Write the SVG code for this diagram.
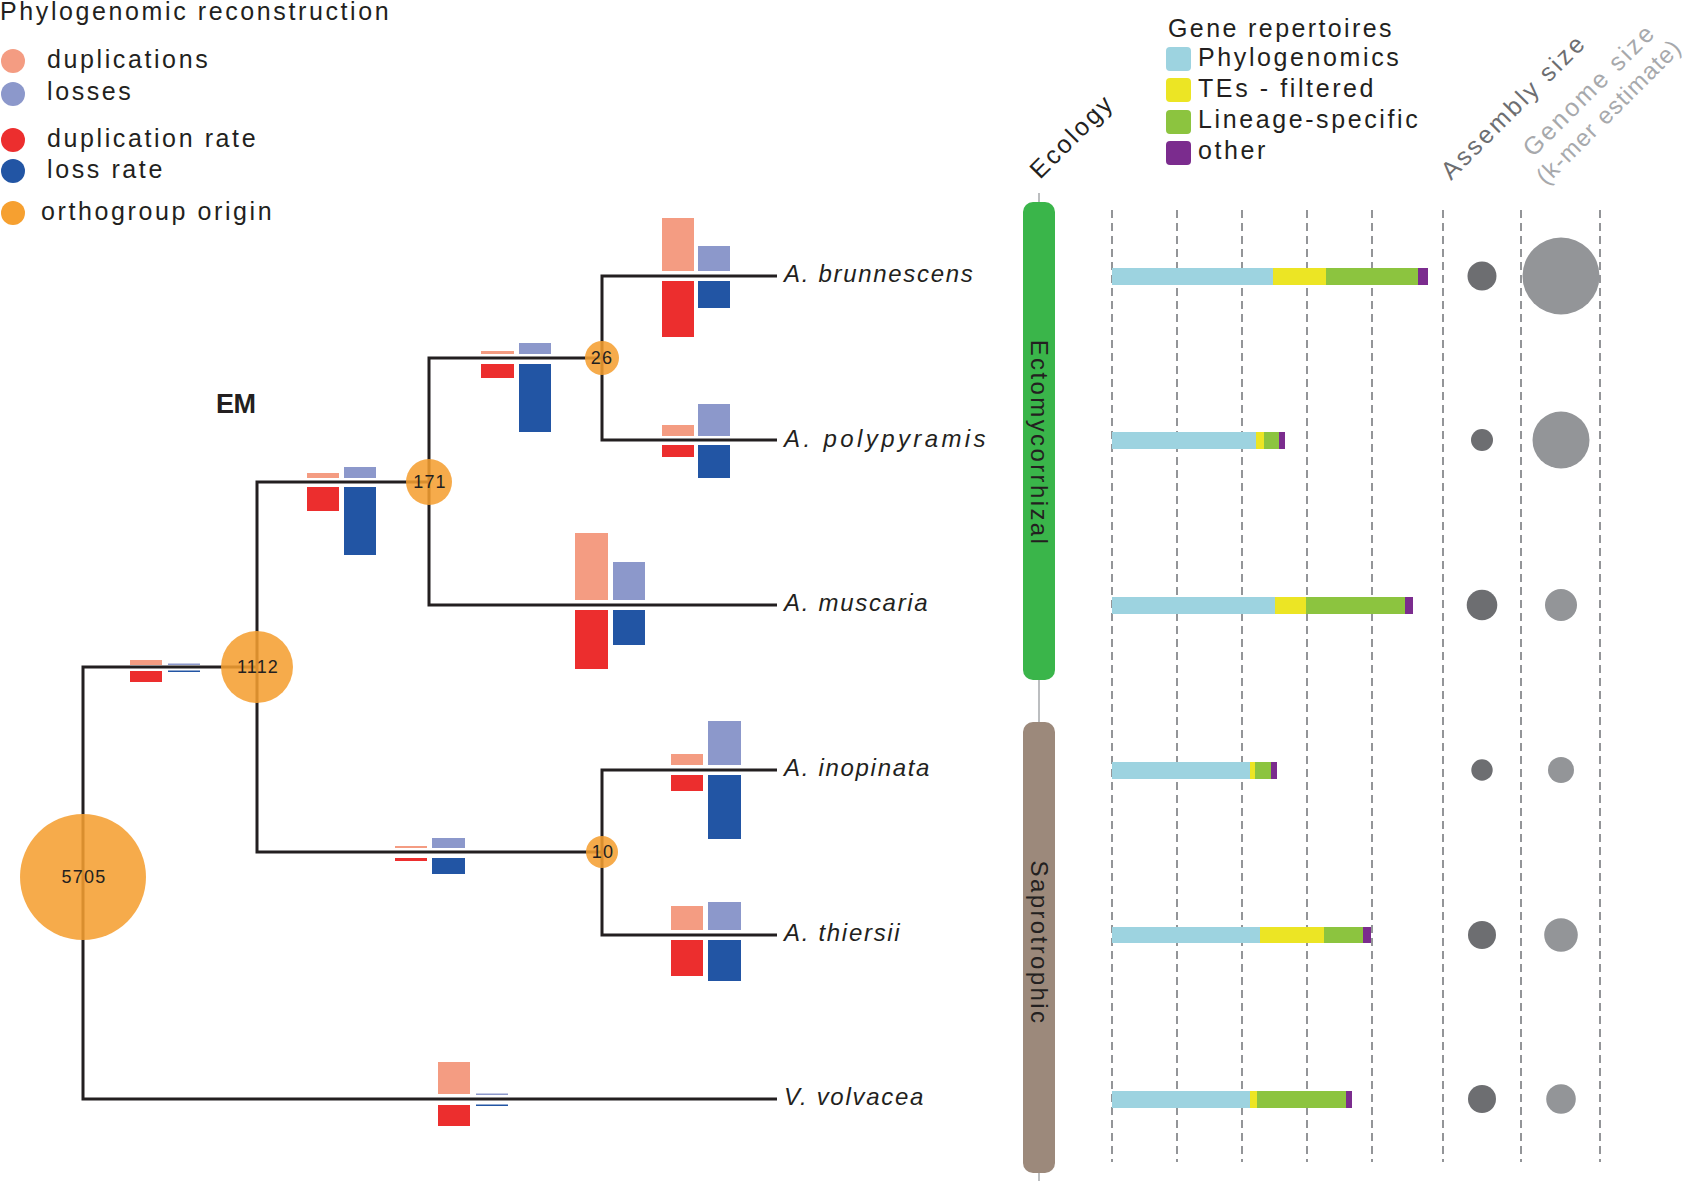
<svg xmlns="http://www.w3.org/2000/svg" width="1695" height="1182" viewBox="0 0 1695 1182">
<style>
text{font-family:"Liberation Sans",Arial,Helvetica,sans-serif;fill:#231F20}
.leg{font-size:25px;letter-spacing:2.6px}
.sp{font-size:24px;font-style:italic;letter-spacing:1.7px}
.nl{font-size:18px;letter-spacing:1.2px;text-anchor:middle}
.eco{font-size:24px;letter-spacing:2.4px;text-anchor:middle}
.br{fill:none;stroke:#231F20;stroke-width:3;stroke-linejoin:miter;stroke-linecap:butt}
.dup{fill:#F49C82}.los{fill:#8C98CB}.dr{fill:#EC2E2E}.lr{fill:#2255A4}
.node{fill:#F59E30;fill-opacity:0.87}
.grid{stroke:#939598;stroke-width:2;stroke-dasharray:8 5}
.cy{fill:#9DD3E0}.ye{fill:#ECE524}.gr{fill:#8CC43F}.pu{fill:#7B2C8E}
.asm{fill:#6D6E71}.gen{fill:#939598}
</style>

<g id="legend-left">
<text class="leg" x="0" y="20">Phylogenomic reconstruction</text>
<circle cx="13" cy="61" r="12" class="dup"/><text class="leg" x="47" y="68">duplications</text>
<circle cx="13" cy="94" r="12" class="los"/><text class="leg" x="47" y="100">losses</text>
<circle cx="13" cy="140" r="12" class="dr"/><text class="leg" x="47" y="147">duplication rate</text>
<circle cx="13" cy="171" r="12" class="lr"/><text class="leg" x="47" y="178">loss rate</text>
<circle cx="13" cy="213" r="12" fill="#F6A030"/><text class="leg" x="41" y="220">orthogroup origin</text>
</g>

<g id="legend-right">
<text class="leg" x="1168" y="37" style="letter-spacing:2.4px">Gene repertoires</text>
<rect x="1166" y="47" width="25" height="24" rx="4" class="cy"/><text class="leg" x="1198" y="66">Phylogenomics</text>
<rect x="1166" y="78" width="25" height="24" rx="4" class="ye"/><text class="leg" x="1198" y="97">TEs - filtered</text>
<rect x="1166" y="110" width="25" height="24" rx="4" class="gr"/><text class="leg" x="1198" y="128">Lineage-specific</text>
<rect x="1166" y="141" width="25" height="24" rx="4" class="pu"/><text class="leg" x="1198" y="159">other</text>
<text class="leg" x="1040" y="180" transform="rotate(-45 1040 180)">Ecology</text>
<text class="leg" x="1451" y="181" transform="rotate(-45 1451 181)" style="fill:#6D6E71">Assembly size</text>
<text class="leg" x="1533" y="158" transform="rotate(-45 1533 158)" style="fill:#A7A9AC">Genome size</text>
<text class="leg" x="1546" y="186" transform="rotate(-45 1546 186)" style="fill:#A7A9AC;font-size:24px;letter-spacing:1.2px">(k-mer estimate)</text>
</g>

<g id="connectors">
<path class="br" d="M257 667 H83 V1099 H777"/>
<path class="br" d="M429 482 H257 V852 H602"/>
<path class="br" d="M602 358 H429 V605 H777"/>
<path class="br" d="M777 276 H602 V440 H777"/>
<path class="br" d="M777 770 H602 V935 H777"/>
</g>

<g id="branch-bars">
<rect x="130" y="660" width="32" height="5" class="dup"/>
<rect x="168" y="663.5" width="32" height="1.5" class="los"/>
<rect x="130" y="671" width="32" height="11" class="dr"/>
<rect x="168" y="670.5" width="32" height="1.5" class="lr"/>

<rect x="307" y="473" width="32" height="5" class="dup"/>
<rect x="344" y="467" width="32" height="11" class="los"/>
<rect x="307" y="487" width="32" height="24" class="dr"/>
<rect x="344" y="487" width="32" height="68" class="lr"/>

<rect x="481" y="351" width="33" height="3" class="dup"/>
<rect x="519" y="343" width="32" height="11" class="los"/>
<rect x="481" y="364" width="33" height="14" class="dr"/>
<rect x="519" y="364" width="32" height="68" class="lr"/>

<rect x="662" y="218" width="32" height="53" class="dup"/>
<rect x="698" y="246" width="32" height="25" class="los"/>
<rect x="662" y="281" width="32" height="56" class="dr"/>
<rect x="698" y="281" width="32" height="27" class="lr"/>

<rect x="662" y="425" width="32" height="11" class="dup"/>
<rect x="698" y="404" width="32" height="32" class="los"/>
<rect x="662" y="445" width="32" height="12" class="dr"/>
<rect x="698" y="445" width="32" height="33" class="lr"/>

<rect x="575" y="533" width="33" height="67" class="dup"/>
<rect x="613" y="562" width="32" height="38" class="los"/>
<rect x="575" y="610" width="33" height="59" class="dr"/>
<rect x="613" y="610" width="32" height="35" class="lr"/>

<rect x="395" y="846" width="32" height="2" class="dup"/>
<rect x="432" y="838" width="33" height="10" class="los"/>
<rect x="395" y="858" width="32" height="3" class="dr"/>
<rect x="432" y="858" width="33" height="16" class="lr"/>

<rect x="671" y="754" width="32" height="11" class="dup"/>
<rect x="708" y="721" width="33" height="44" class="los"/>
<rect x="671" y="775" width="32" height="16" class="dr"/>
<rect x="708" y="775" width="33" height="64" class="lr"/>

<rect x="671" y="906" width="32" height="24" class="dup"/>
<rect x="708" y="902" width="33" height="28" class="los"/>
<rect x="671" y="940" width="32" height="36" class="dr"/>
<rect x="708" y="940" width="33" height="41" class="lr"/>

<rect x="438" y="1062" width="32" height="32" class="dup"/>
<rect x="476" y="1093.5" width="32" height="1.5" class="los"/>
<rect x="438" y="1105" width="32" height="21" class="dr"/>
<rect x="476" y="1104.5" width="32" height="1.5" class="lr"/>
</g>

<g id="node-5705"><circle cx="83" cy="877" r="63" class="node"/><text class="nl" x="84" y="883">5705</text></g>
<g id="node-1112"><circle cx="257" cy="667" r="36" class="node"/><text class="nl" x="258" y="673">1112</text></g>
<g id="node-171"><circle cx="429" cy="482" r="23" class="node"/><text class="nl" x="430" y="488">171</text></g>
<g id="node-26"><circle cx="602" cy="358" r="17" class="node"/><text class="nl" x="602" y="364">26</text></g>
<g id="node-10"><circle cx="602" cy="852" r="16" class="node"/><text class="nl" x="603" y="858">10</text></g>

<g id="label-EM"><text x="216" y="413" style="font-size:27px;font-weight:bold;letter-spacing:-0.5px">EM</text></g>

<g id="species">
<text class="sp" x="784" y="282">A. brunnescens</text>
<text class="sp" x="784" y="447" style="letter-spacing:3.4px">A. polypyramis</text>
<text class="sp" x="784" y="611">A. muscaria</text>
<text class="sp" x="784" y="776">A. inopinata</text>
<text class="sp" x="784" y="941">A. thiersii</text>
<text class="sp" x="784" y="1105">V. volvacea</text>
</g>

<g id="ecology">
<line x1="1039" y1="193" x2="1039" y2="1181" stroke="#BCBEC0" stroke-width="2"/>
<rect x="1023" y="202" width="32" height="478" rx="10" fill="#3AB54A"/>
<rect x="1023" y="722" width="32" height="451" rx="10" fill="#9C897B"/>
<text class="eco" x="443" y="-1031" transform="rotate(90)">Ectomycorrhizal</text>
<text class="eco" x="943" y="-1031" transform="rotate(90)">Saprotrophic</text>
</g>

<g id="grid">
<line class="grid" x1="1112" y1="210" x2="1112" y2="1162"/>
<line class="grid" x1="1177" y1="210" x2="1177" y2="1162"/>
<line class="grid" x1="1242" y1="210" x2="1242" y2="1162"/>
<line class="grid" x1="1307" y1="210" x2="1307" y2="1162"/>
<line class="grid" x1="1372" y1="210" x2="1372" y2="1162"/>
<line class="grid" x1="1443" y1="210" x2="1443" y2="1162"/>
<line class="grid" x1="1521" y1="210" x2="1521" y2="1162"/>
<line class="grid" x1="1600" y1="210" x2="1600" y2="1162"/>
</g>

<g id="gene-repertoires">
<g id="gr-brunnescens"><rect x="1112" y="268" width="161" height="17" class="cy"/><rect x="1273" y="268" width="53" height="17" class="ye"/><rect x="1326" y="268" width="92" height="17" class="gr"/><rect x="1418" y="268" width="10" height="17" class="pu"/></g>
<g id="gr-polypyramis"><rect x="1112" y="432" width="144" height="17" class="cy"/><rect x="1256" y="432" width="8" height="17" class="ye"/><rect x="1264" y="432" width="15" height="17" class="gr"/><rect x="1279" y="432" width="6" height="17" class="pu"/></g>
<g id="gr-muscaria"><rect x="1112" y="597" width="163" height="17" class="cy"/><rect x="1275" y="597" width="31" height="17" class="ye"/><rect x="1306" y="597" width="99" height="17" class="gr"/><rect x="1405" y="597" width="8" height="17" class="pu"/></g>
<g id="gr-inopinata"><rect x="1112" y="762" width="138" height="17" class="cy"/><rect x="1250" y="762" width="5" height="17" class="ye"/><rect x="1255" y="762" width="16" height="17" class="gr"/><rect x="1271" y="762" width="6" height="17" class="pu"/></g>
<g id="gr-thiersii"><rect x="1112" y="927" width="148" height="16" class="cy"/><rect x="1260" y="927" width="64" height="16" class="ye"/><rect x="1324" y="927" width="39" height="16" class="gr"/><rect x="1363" y="927" width="8" height="16" class="pu"/></g>
<g id="gr-volvacea"><rect x="1112" y="1091" width="138" height="17" class="cy"/><rect x="1250" y="1091" width="7" height="17" class="ye"/><rect x="1257" y="1091" width="89" height="17" class="gr"/><rect x="1346" y="1091" width="6" height="17" class="pu"/></g>
</g>

<g id="assembly-size">
<circle cx="1482" cy="276" r="14.5" class="asm"/>
<circle cx="1482" cy="440" r="11" class="asm"/>
<circle cx="1482" cy="605" r="15.3" class="asm"/>
<circle cx="1482" cy="770" r="10.7" class="asm"/>
<circle cx="1482" cy="935" r="14" class="asm"/>
<circle cx="1482" cy="1099" r="14" class="asm"/>
</g>

<g id="genome-size">
<circle cx="1561" cy="276" r="38.5" class="gen"/>
<circle cx="1561" cy="440" r="28.5" class="gen"/>
<circle cx="1561" cy="605" r="16" class="gen"/>
<circle cx="1561" cy="770" r="13" class="gen"/>
<circle cx="1561" cy="935" r="16.8" class="gen"/>
<circle cx="1561" cy="1099" r="14.8" class="gen"/>
</g>
</svg>
